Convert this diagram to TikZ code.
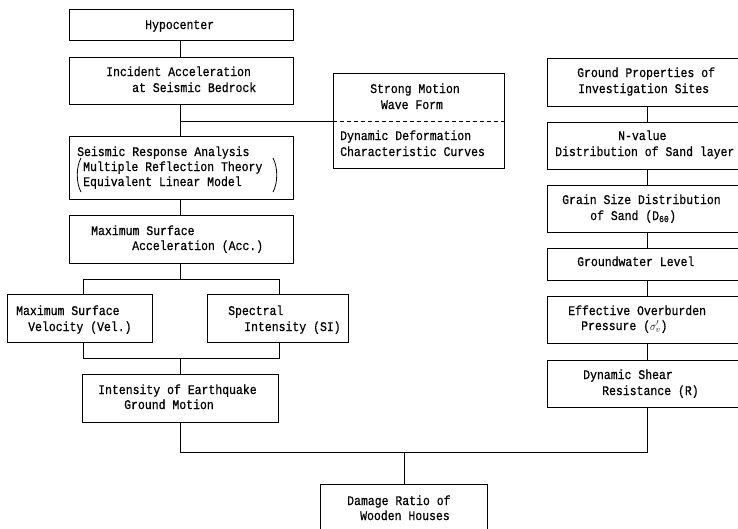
\documentclass[tikz,border=0pt]{standalone}
\usepackage{fontspec}
\usepackage{graphicx}
\newfontfamily\typemono[FakeBold=0.7]{Liberation Mono}
\newcommand{\tl}[1]{\scalebox{0.87}[1]{#1}}
\begin{document}
\begin{tikzpicture}[x=1pt,y=-1pt,
  box/.style={draw,line width=0.9pt,inner sep=0pt},
  conn/.style={draw,line width=0.9pt},
  txt/.style={anchor=west,inner sep=0pt,text height=8.5pt,text depth=2.5pt,font=\typemono\fontsize{13.2}{15}\selectfont},
  txtc/.style={txt,anchor=center}]
\useasboundingbox (0,0) rectangle (738,528);
\clip (0,0) rectangle (738,528);
\fill[white] (0,0) rectangle (738,528);
% boxes
\node[box,minimum width=224pt,minimum height=31pt] (hypo) at (181,24.5) {};
\node[box,minimum width=224pt,minimum height=47pt] (inc) at (181,80.5) {};
\node[box,minimum width=171pt,minimum height=95pt] (strong) at (418.5,120.5) {};
\node[box,minimum width=224pt,minimum height=63pt] (seis) at (181,167.5) {};
\node[box,minimum width=224pt,minimum height=48pt] (acc) at (181,239) {};
\node[box,minimum width=145pt,minimum height=48pt] (vel) at (79.5,318) {};
\node[box,minimum width=141pt,minimum height=48pt] (si) at (277.5,318) {};
\node[box,minimum width=196pt,minimum height=48pt] (ieg) at (180,398) {};
\node[box,minimum width=167pt,minimum height=56pt] (dmg) at (403.5,512) {};
\node[box,minimum width=203pt,minimum height=48pt] (gp) at (648.5,82) {};
\node[box,minimum width=203pt,minimum height=47pt] (nv) at (648.5,145.5) {};
\node[box,minimum width=203pt,minimum height=47pt] (gs) at (648.5,208.5) {};
\node[box,minimum width=203pt,minimum height=32pt] (gw) at (648.5,264) {};
\node[box,minimum width=203pt,minimum height=47pt] (eo) at (648.5,319.5) {};
\node[box,minimum width=203pt,minimum height=47pt] (ds) at (648.5,383.5) {};
% coordinates for connectors
\coordinate (j1) at (180,121);
\coordinate (j2) at (180,279);
\coordinate (j2l) at (83,279);
\coordinate (j2r) at (279,279);
\coordinate (j3) at (180,358);
\coordinate (j3l) at (83,358);
\coordinate (j3r) at (279,358);
\coordinate (j4) at (180,452);
\coordinate (j4m) at (404,452);
\coordinate (j4r) at (647,452);
% connectors left column
\draw[conn] (hypo.south -| j1) -- (inc.north -| j1);
\draw[conn] (inc.south -| j1) -- (seis.north -| j1);
\draw[conn] (j1) -- (strong.west |- j1);
\draw[line width=0.9pt,dash pattern=on 4pt off 3pt] (strong.west |- j1) -- (strong.east |- j1);
\draw[conn] (seis.south -| j1) -- (acc.north -| j1);
\draw[conn] (acc.south -| j2) -- (j2);
\draw[conn] (vel.north -| j2l) -- (j2l) -- (j2r) -- (si.north -| j2r);
\draw[conn] (vel.south -| j3l) -- (j3l) -- (j3r) -- (si.south -| j3r);
\draw[conn] (j3) -- (ieg.north -| j3);
\draw[conn] (ieg.south -| j4) -- (j4) -- (j4r) -- (ds.south -| j4r);
\draw[conn] (j4m) -- (dmg.north -| j4m);
% right column
\draw[conn] (gp.south -| j4r) -- (nv.north -| j4r);
\draw[conn] (nv.south -| j4r) -- (gs.north -| j4r);
\draw[conn] (gs.south -| j4r) -- (gw.north -| j4r);
\draw[conn] (gw.south -| j4r) -- (eo.north -| j4r);
\draw[conn] (eo.south -| j4r) -- (ds.north -| j4r);
% texts
\node[txt] (t1) at (145,26) {\tl{Hypocenter}};
\node[txt] (t2a) at (106,73) {\tl{Incident Acceleration}};
\node[txt] (t2b) at (132,89) {\tl{at Seismic Bedrock}};
\node[txtc] (t3a) at (415,90) {\tl{Strong Motion}};
\node[txtc] (t3b) at (412,106) {\tl{Wave Form}};
\node[txt] (t3c) at (340,137) {\tl{Dynamic Deformation}};
\node[txt] (t3d) at (340,153) {\tl{Characteristic Curves}};
\node[txt] (t4a) at (77,153) {\tl{Seismic Response Analysis}};
\node[txt] (t4b) at (83,168) {\tl{Multiple Reflection Theory}};
\node[txt] (t4c) at (83,183) {\tl{Equivalent Linear Model}};
\draw[line width=0.8pt] (81,158) .. controls (76,167) and (76,183) .. (81,192);
\draw[line width=0.8pt] (273,158) .. controls (278,167) and (278,183) .. (273,192);
\node[txt] (t5a) at (91,232) {\tl{Maximum Surface}};
\node[txt] (t5b) at (132,247) {\tl{Acceleration (Acc.)}};
\node[txt] (t6a) at (16,312) {\tl{Maximum Surface}};
\node[txt] (t6b) at (28,328) {\tl{Velocity (Vel.)}};
\node[txt] (t7a) at (228,312) {\tl{Spectral}};
\node[txt] (t7b) at (244,328) {\tl{Intensity (SI)}};
\node[txt] (t8a) at (98,391) {\tl{Intensity of Earthquake}};
\node[txt] (t8b) at (124,406) {\tl{Ground Motion}};
\node[txt] (t9a) at (347,502) {\tl{Damage Ratio of}};
\node[txt] (t9b) at (360,517) {\tl{Wooden Houses}};
\node[txt] (r1a) at (577,74) {\tl{Ground Properties of}};
\node[txt] (r1b) at (578,90) {\tl{Investigation Sites}};
\node[txt] (r2a) at (618,137) {\tl{N-value}};
\node[txt] (r2b) at (555,153) {\tl{Distribution of Sand layer}};
\node[txt] (r3a) at (562,201) {\tl{Grain Size Distribution}};
\node[txt] (r3b) at (590,217) {\tl{of Sand (D\textsubscript{60})}};
\node[txt] (r4) at (577,263) {\tl{Groundwater Level}};
\node[txt] (r5a) at (568,312) {\tl{Effective Overburden}};
\node[txt] (r5b) at (581,327) {\tl{Pressure ($\sigma_{v}'$)}};
\node[txt] (r6a) at (583,376) {\tl{Dynamic Shear}};
\node[txt] (r6b) at (602,392) {\tl{Resistance (R)}};
\end{tikzpicture}
\end{document}
